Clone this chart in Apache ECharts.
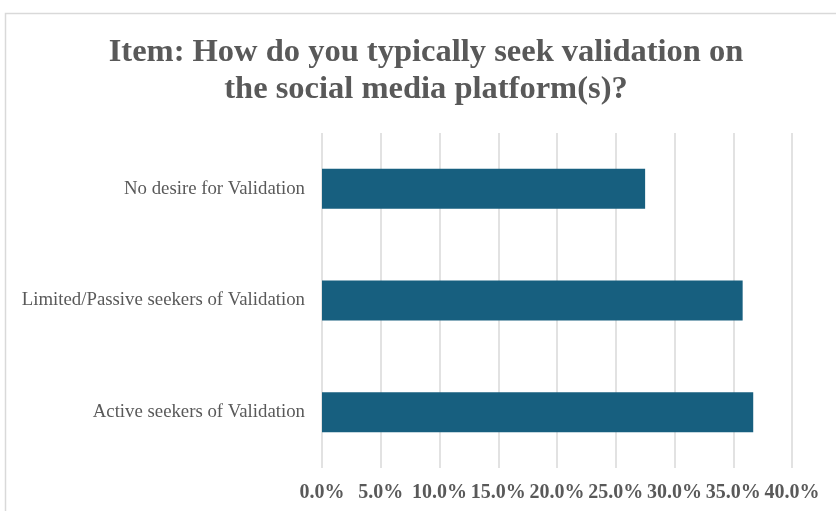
<!DOCTYPE html>
<html>
<head>
<meta charset="utf-8">
<script src="https://cdn.jsdelivr.net/npm/echarts@6/dist/echarts.min.js"></script>
<style>
  html, body { margin: 0; padding: 0; background: #ffffff; }
  #chart { width: 836px; height: 511px; }
</style>
</head>
<body>
<div id="chart"></div>
<script>
// Response categories, listed bottom to top as the category axis draws them
const categories = [
  'Active seekers of Validation',
  'Limited/Passive seekers of Validation',
  'No desire for Validation'
];
// Share of respondents, percent
const shares = [36.7, 35.8, 27.5];
// Value axis range and step, percent
const axisMin = 0;
const axisMax = 40;
const axisStep = 5;

const titleText = 'Item: How do you typically seek validation on\nthe social media platform(s)?';

const chart = echarts.init(document.getElementById('chart'), null, { renderer: 'canvas' });
const serif = '"Liberation Serif", "Times New Roman", serif';
const grey = '#595959';

chart.setOption({
  animation: false,
  backgroundColor: '#ffffff',
  graphic: [
    {
      // light frame round the chart area
      type: 'rect',
      shape: { x: 5.5, y: 13.5, width: 900, height: 600 },
      style: { fill: 'none', stroke: '#d9d9d9', lineWidth: 1.5 },
      silent: true
    },
    {
      // two-line chart title
      type: 'text',
      x: 426,
      y: 34,
      style: {
        text: titleText,
        textAlign: 'center',
        textVerticalAlign: 'top',
        fontFamily: serif,
        fontWeight: 'bold',
        fontSize: 32.5,
        lineHeight: 37,
        fill: grey
      },
      silent: true
    }
  ],
  grid: { left: 322, right: 44, top: 133, bottom: 43, containLabel: false },
  xAxis: {
    type: 'value',
    min: axisMin,
    max: axisMax,
    interval: axisStep,
    axisLine: { show: false },
    axisTick: { show: false },
    splitLine: { show: true, lineStyle: { color: '#d9d9d9', width: 1.5 } },
    axisLabel: {
      margin: 15,
      fontFamily: serif,
      fontWeight: 'bold',
      fontSize: 20,
      color: grey,
      hideOverlap: false,
      formatter: v => v.toFixed(1) + '%'
    }
  },
  yAxis: {
    type: 'category',
    data: categories,
    axisLine: { show: false },
    axisTick: { show: false },
    axisLabel: {
      margin: 17,
      fontFamily: serif,
      fontSize: 18.8,
      color: grey
    }
  },
  series: [{
    type: 'bar',
    data: shares,
    barWidth: 40,
    itemStyle: { color: '#175f7f' }
  }]
});
</script>
</body>
</html>
